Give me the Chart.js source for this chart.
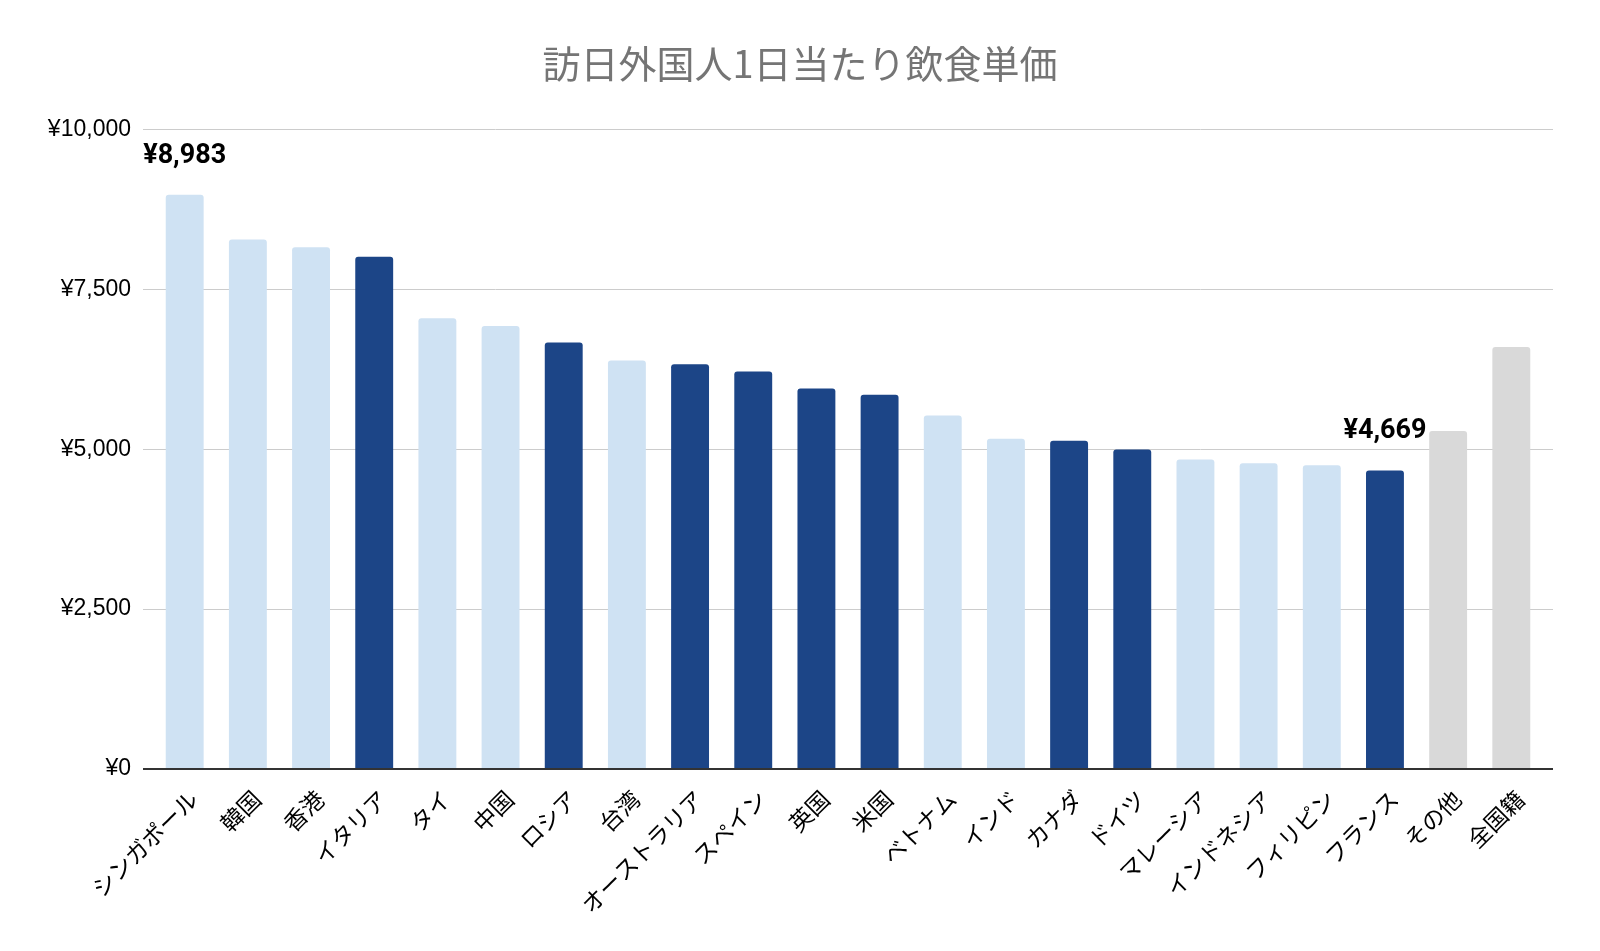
<!DOCTYPE html>
<html lang="ja">
<head>
<meta charset="utf-8">
<title>訪日外国人1日当たり飲食単価</title>
<script src="https://cdn.jsdelivr.net/npm/chart.js@4.4.1/dist/chart.umd.min.js"></script>
<style>
    html, body { margin: 0; padding: 0; background: #ffffff; }
    #chartWrap { width: 1600px; height: 951px; }
</style>
</head>
<body>
<div id="chartWrap"><canvas id="mealChart"></canvas></div>
<script>
// Datos del gráfico
const categories = ['シンガポール', '韓国', '香港', 'イタリア', 'タイ', '中国', 'ロシア', '台湾', 'オーストラリア', 'スペイン', '英国', '米国', 'ベトナム', 'インド', 'カナダ', 'ドイツ', 'マレーシア', 'インドネシア', 'フィリピン', 'フランス', 'その他', '全国籍'];
const mealPrice = [8983, 8280, 8160, 8010, 7050, 6930, 6670, 6390, 6330, 6215, 5950, 5855, 5530, 5165, 5135, 4995, 4840, 4780, 4750, 4669, 5285, 6600];
const regionGroup = ['asia', 'asia', 'asia', 'west', 'asia', 'asia', 'west', 'asia', 'west', 'west', 'west', 'west', 'asia', 'asia', 'west', 'west', 'asia', 'asia', 'asia', 'west', 'total', 'total'];
const labeledBars = ['シンガポール', 'フランス'];
const yTicks = [0, 2500, 5000, 7500, 10000];

const chartTitle = '訪日外国人1日当たり飲食単価';

const mealChart = (() => {
    const groupColors = {
        asia: '#cfe2f3',
        west: '#1c4587',
        total: '#d9d9d9'
    };

    const formatYen = (v) => '¥' + Number(v).toLocaleString('en-US');

    // Etiquetas de valor sobre barras seleccionadas
    const valueLabelPlugin = {
        id: 'valueLabels',
        afterDatasetsDraw(chart) {
            const meta = chart.getDatasetMeta(0);
            const ctx = chart.ctx;
            ctx.save();
            ctx.font = 'bold 27px Roboto, "Liberation Sans", sans-serif';
            ctx.fillStyle = '#000000';
            ctx.textAlign = 'center';
            ctx.textBaseline = 'alphabetic';
            labeledBars.forEach(name => {
                const i = categories.indexOf(name);
                if (i < 0) return;
                const bar = meta.data[i];
                ctx.fillText(formatYen(mealPrice[i]), bar.x, bar.y - 32);
            });
            ctx.restore();
        }
    };

    const render = (canvas) => {
        const edgePad = 0.66;

        return new Chart(canvas, {
            type: 'bar',
            data: {
                datasets: [{
                    data: mealPrice.map((v, i) => ({ x: i, y: v })),
                    backgroundColor: regionGroup.map(g => groupColors[g]),
                    borderRadius: 3,
                    barPercentage: 0.6,
                    categoryPercentage: 1
                }]
            },
            options: {
                responsive: true,
                maintainAspectRatio: false,
                animation: false,
                layout: {
                    padding: { left: 47, right: 47, top: 0, bottom: 0 }
                },
                plugins: {
                    legend: { display: false },
                    tooltip: { enabled: false },
                    title: {
                        display: true,
                        text: chartTitle,
                        color: '#757575',
                        font: { family: '"Noto Sans CJK JP", sans-serif', size: 38, weight: 'normal' },
                        padding: { top: 41, bottom: 43 }
                    }
                },
                scales: {
                    x: {
                        type: 'linear',
                        offset: false,
                        min: -edgePad,
                        max: categories.length - 1 + edgePad,
                        afterBuildTicks: (axis) => {
                            axis.ticks = categories.map((_, i) => ({ value: i }));
                        },
                        afterFit: (axis) => { axis.height = 182; },
                        grid: { display: false },
                        border: { display: false },
                        ticks: {
                            autoSkip: false,
                            minRotation: 45,
                            maxRotation: 45,
                            padding: 8,
                            labelOffset: 9,
                            color: '#000000',
                            font: { family: '"Noto Sans CJK JP", sans-serif', size: 23 },
                            callback: (v) => categories[v] ?? ''
                        }
                    },
                    y: {
                        min: 0,
                        max: yTicks[yTicks.length - 1],
                        afterBuildTicks: (axis) => {
                            axis.ticks = yTicks.map(v => ({ value: v }));
                        },
                        afterFit: (axis) => { axis.width = 96; },
                        border: { display: false },
                        grid: {
                            drawTicks: false,
                            color: (c) => c.tick && c.tick.value === 0 ? '#333333' : '#cccccc',
                            lineWidth: (c) => c.tick && c.tick.value === 0 ? 2 : 1
                        },
                        ticks: {
                            padding: 12,
                            color: '#000000',
                            font: { family: '"Liberation Sans", Arial, sans-serif', size: 23 },
                            callback: (v) => formatYen(v)
                        }
                    }
                }
            },
            plugins: [valueLabelPlugin]
        });
    };

    return { render };
})();

window.mealChart = mealChart;
mealChart.render(document.getElementById('mealChart'));
</script>
</body>
</html>
